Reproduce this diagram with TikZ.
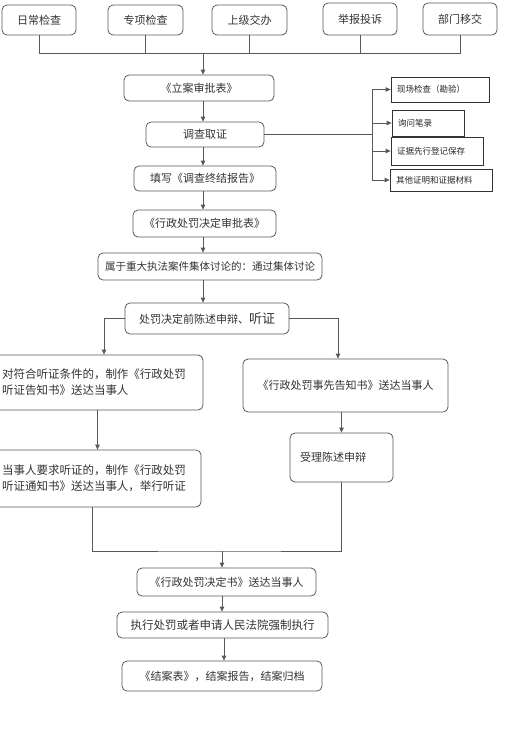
\documentclass[tikz,border=0pt]{standalone}
\usepackage{fontspec}
\newfontfamily\cjk{Noto Sans CJK SC}
\usetikzlibrary{arrows.meta, positioning}

\tikzset{
  box/.style={draw=black!65, rounded corners=5pt, fill=white, text=black!80,
    font=\cjk\fontsize{11}{16}\selectfont, inner sep=0pt, line width=0.8pt},
  sidebox/.style={draw=black!80, fill=white, text=black!85, align=left,
    font=\cjk\fontsize{8.5}{10}\selectfont, inner xsep=6pt, inner ysep=0pt, line width=0.8pt},
  line/.style={draw=black!65, line width=0.8pt},
  arr/.style={line, -{Triangle[length=5pt,width=4.5pt]}},
}

\begin{document}
\begin{tikzpicture}[x=1pt, y=-1pt]
  \useasboundingbox (0,0) rectangle (516,747);

  % 案件来源
  \node[box, minimum width=74pt, minimum height=30pt] (d1) at (39,20) {日常检查};
  \node[box, minimum width=75pt, minimum height=30pt] (d2) at (145.5,20) {专项检查};
  \node[box, minimum width=75pt, minimum height=30pt] (d3) at (249.5,20) {上级交办};
  \node[box, minimum width=74pt, minimum height=32pt] (d4) at (360,19) {举报投诉};
  \node[box, minimum width=74pt, minimum height=32pt] (d5) at (460,19) {部门移交};
  \coordinate (bus) at (203,53);
  \foreach \i in {1,...,5}
    \draw[line] (d\i.south) |- (bus);

  % 立案与调查
  \node[box, minimum width=150pt, minimum height=26pt] (lian) at (199,88) {《立案审批表》};
  \node[box, minimum width=118pt, minimum height=25pt] (diaocha) at (205,134.5) {调查取证};
  \node[box, minimum width=142pt, minimum height=25pt] (tianxie) at (205,178.5) {填写《调查终结报告》};
  \node[box, minimum width=143pt, minimum height=27pt] (shenpi) at (204.5,223.5) {《行政处罚决定审批表》};
  \node[box, minimum width=224pt, minimum height=27pt, font=\cjk\fontsize{10.5}{14}\selectfont] (jiti) at (210,266.5)
    {属于重大执法案件集体讨论的：通过集体讨论};
  \node[box, minimum width=164pt, minimum height=31pt] (chenshu) at (207,318.5)
    {处罚决定前陈述申辩、{\fontsize{13}{15}\selectfont 听证}};

  \draw[arr] (bus) -- (bus |- lian.north);
  \draw[arr] (bus |- lian.south) -- (bus |- diaocha.north);
  \draw[arr] (bus |- diaocha.south) -- (bus |- tianxie.north);
  \draw[arr] (bus |- tianxie.south) -- (bus |- shenpi.north);
  \draw[arr] (bus |- shenpi.south) -- (bus |- jiti.north);
  \draw[arr] (bus |- jiti.south) -- (bus |- chenshu.north);

  % 取证方式
  \node[sidebox, text width=86pt, minimum height=25pt] (xc) at (440,89.5) {现场检查（勘验）};
  \node[sidebox, text width=60pt, minimum height=26pt] (xw) at (428,123) {询问笔录};
  \node[sidebox, text width=80pt, minimum height=28pt] (zj) at (437,151) {证据先行登记保存};
  \node[sidebox, text width=90pt, minimum height=22pt] (qt) at (441,180) {其他证明和证据材料};
  \coordinate (spine) at (372,134.5);
  \draw[line] (diaocha.east) -- (spine);
  \draw[line] (spine |- xc.west) -- (spine |- qt.west);
  \foreach \n in {xc,xw,zj,qt}
    \draw[arr] (spine |- \n.west) -- (\n.west);

  % 告知与听证
  \node[box, minimum height=55pt, text width=191pt, inner xsep=10pt, align=left,
    font=\cjk\fontsize{11.5}{16}\selectfont] (left1) at (97.5,382.5)
    {对符合听证条件的，制作《行政处罚\\听证告知书》送达当事人};
  \node[box, minimum width=205pt, minimum height=53pt] (right1) at (345.5,385.5)
    {《行政处罚事先告知书》送达当事人};
  \node[box, minimum height=49pt, text width=83pt, inner xsep=10pt] (shouli) at (341.5,457.5) {受理陈述申辩};
  \node[box, minimum height=57pt, text width=189pt, inner xsep=10pt, align=left,
    font=\cjk\fontsize{11.5}{16}\selectfont] (left2) at (96.5,478.5)
    {当事人要求听证的，制作《行政处罚\\听证通知书》送达当事人，举行听证};

  \draw[arr] (chenshu.west) -| ([xshift=6.5pt]left1.north);
  \draw[arr] (chenshu.east) -| ([xshift=-7.5pt]right1.north);
  \draw[arr] (left1.south) -- (left1.south |- left2.north);
  \draw[arr] (shouli.north |- right1.south) -- (shouli.north);

  % 决定与执行
  \node[box, minimum width=179pt, minimum height=28pt] (jueding) at (226.5,582) {《行政处罚决定书》送达当事人};
  \node[box, minimum width=211pt, minimum height=26pt, font=\cjk\fontsize{11.5}{16}\selectfont] (zhixing) at (222.5,625)
    {执行处罚或者申请人民法院强制执行};
  \node[box, minimum width=200pt, minimum height=30pt] (jiean) at (222,676) {《结案表》，结案报告，结案归档};

  \coordinate (merge) at (222,551);
  \draw[line] ([xshift=-4.5pt]left2.south) |- (merge) -| (shouli.south);
  \draw[arr] (merge) -- (merge |- jueding.north);
  \draw[arr] (merge |- jueding.south) -- (merge |- zhixing.north);
  \draw[arr] ([xshift=2pt]merge |- zhixing.south) -- ([xshift=2pt]merge |- jiean.north);
\end{tikzpicture}
\end{document}
